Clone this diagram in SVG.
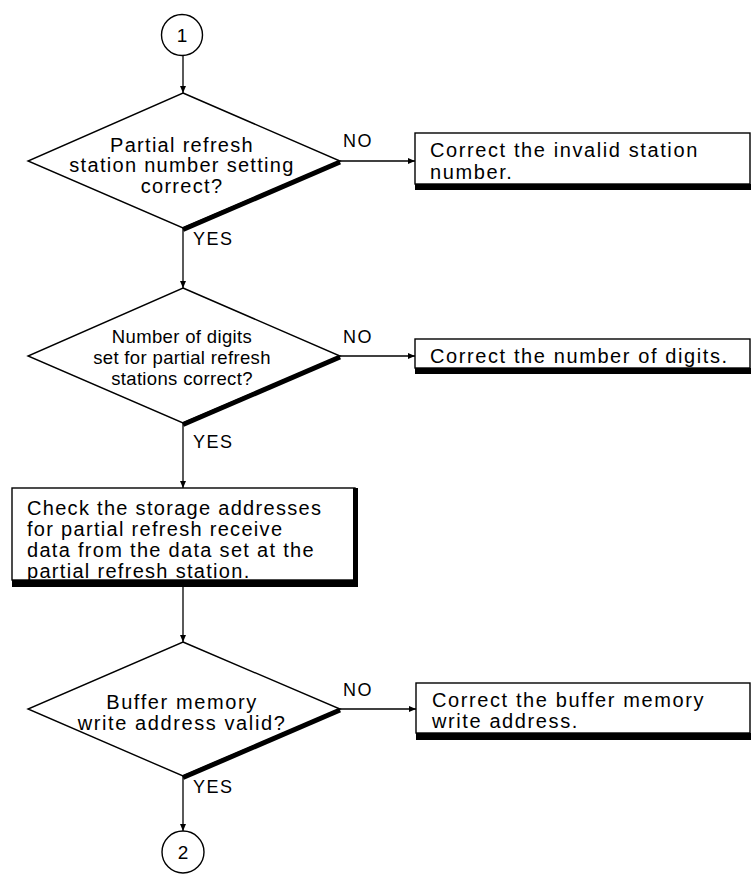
<svg xmlns="http://www.w3.org/2000/svg" width="752" height="874" viewBox="0 0 752 874">
<style>
  .ln { fill: none; stroke: #000; stroke-width: 1.3; }
  .shape { fill: #fff; stroke: #000; stroke-width: 1.4; }
  .thick { fill: none; stroke: #000; stroke-width: 5; stroke-linecap: butt; }
  .sh { fill: #000; }
  text { font-family: "Liberation Sans", Arial, Helvetica, sans-serif; fill: #000; }
  .dt { font-size: 20px; letter-spacing: 1.3px; text-anchor: middle; }
  .dt2 { font-size: 18.5px; letter-spacing: 0.35px; text-anchor: middle; }
  .dt3 { font-size: 20px; letter-spacing: 1.6px; text-anchor: middle; }
  .bt { font-size: 20px; letter-spacing: 1.6px; }
  .pt { font-size: 20px; letter-spacing: 1.3px; }
  .lbl { font-size: 18px; letter-spacing: 1.5px; }
  .num { font-size: 19px; text-anchor: middle; }
</style>
<defs>
  <marker id="arr" markerWidth="8" markerHeight="6" refX="7" refY="3" orient="auto" markerUnits="userSpaceOnUse">
    <path d="M0,0 L7,3 L0,6 z" fill="#000"/>
  </marker>
</defs>

<g id="connectors">
  <line class="ln" x1="183" y1="55.5" x2="183" y2="93" marker-end="url(#arr)"/>
  <line class="ln" x1="183" y1="228" x2="183" y2="288" marker-end="url(#arr)"/>
  <line class="ln" x1="183" y1="423" x2="183" y2="488" marker-end="url(#arr)"/>
  <line class="ln" x1="183" y1="587" x2="183" y2="642" marker-end="url(#arr)"/>
  <line class="ln" x1="183" y1="776" x2="183" y2="831" marker-end="url(#arr)"/>
  <line class="ln" x1="340" y1="161" x2="415" y2="161" marker-end="url(#arr)"/>
  <line class="ln" x1="340" y1="356" x2="415" y2="356" marker-end="url(#arr)"/>
  <line class="ln" x1="340" y1="709" x2="416" y2="709" marker-end="url(#arr)"/>
  <text class="lbl" x="343" y="147">NO</text>
  <text class="lbl" x="193" y="245">YES</text>
  <text class="lbl" x="343" y="343">NO</text>
  <text class="lbl" x="193" y="448">YES</text>
  <text class="lbl" x="343" y="696">NO</text>
  <text class="lbl" x="193" y="793">YES</text>
</g>

<g id="start1">
  <circle class="shape" cx="182" cy="35" r="20.5"/>
  <text class="num" x="182" y="42">1</text>
</g>

<g id="decision1">
  <polygon class="shape" points="183,93 340,161 183,228 28,161"/>
  <line class="thick" x1="340" y1="162" x2="183" y2="229.5"/>
  <text class="dt" x="182" y="152">Partial refresh</text>
  <text class="dt" x="182" y="172">station number setting</text>
  <text class="dt" x="182" y="193">correct?</text>
</g>

<g id="fix1">
  <rect class="shape" x="415" y="133" width="335" height="51"/>
  <rect class="sh" x="415" y="184" width="336" height="6"/>
  <text class="bt" x="430" y="157">Correct the invalid station</text>
  <text class="bt" x="430" y="179">number.</text>
</g>

<g id="decision2">
  <polygon class="shape" points="183,288 340,356 183,423 28,356"/>
  <line class="thick" x1="340" y1="357" x2="183" y2="424.5"/>
  <text class="dt2" x="182" y="343">Number of digits</text>
  <text class="dt2" x="182" y="364">set for partial refresh</text>
  <text class="dt2" x="182" y="385">stations correct?</text>
</g>

<g id="fix2">
  <rect class="shape" x="415" y="339" width="335" height="29"/>
  <rect class="sh" x="415" y="368" width="336" height="6"/>
  <text class="bt" x="430" y="363">Correct the number of digits.</text>
</g>

<g id="check">
  <rect class="shape" x="12" y="488" width="343" height="92"/>
  <rect class="sh" x="353" y="488" width="5" height="99"/>
  <rect class="sh" x="12" y="580" width="346" height="7"/>
  <text class="pt" x="27" y="514.5">Check the storage addresses</text>
  <text class="pt" x="27" y="535.5">for partial refresh receive</text>
  <text class="pt" x="27" y="556.5">data from the data set at the</text>
  <text class="pt" x="27" y="577.5">partial refresh station.</text>
</g>

<g id="decision3">
  <polygon class="shape" points="183,642 340,709 183,776 28,709"/>
  <line class="thick" x1="340" y1="710" x2="183" y2="777.5"/>
  <text class="dt3" x="182" y="709">Buffer memory</text>
  <text class="dt3" x="182" y="730">write address valid?</text>
</g>

<g id="fix3">
  <rect class="shape" x="416" y="683" width="334" height="50"/>
  <rect class="sh" x="416" y="733" width="335" height="7"/>
  <text class="bt" x="432" y="707">Correct the buffer memory</text>
  <text class="bt" x="432" y="728">write address.</text>
</g>

<g id="end2">
  <circle class="shape" cx="183" cy="852" r="21"/>
  <text class="num" x="183" y="859">2</text>
</g>
</svg>
